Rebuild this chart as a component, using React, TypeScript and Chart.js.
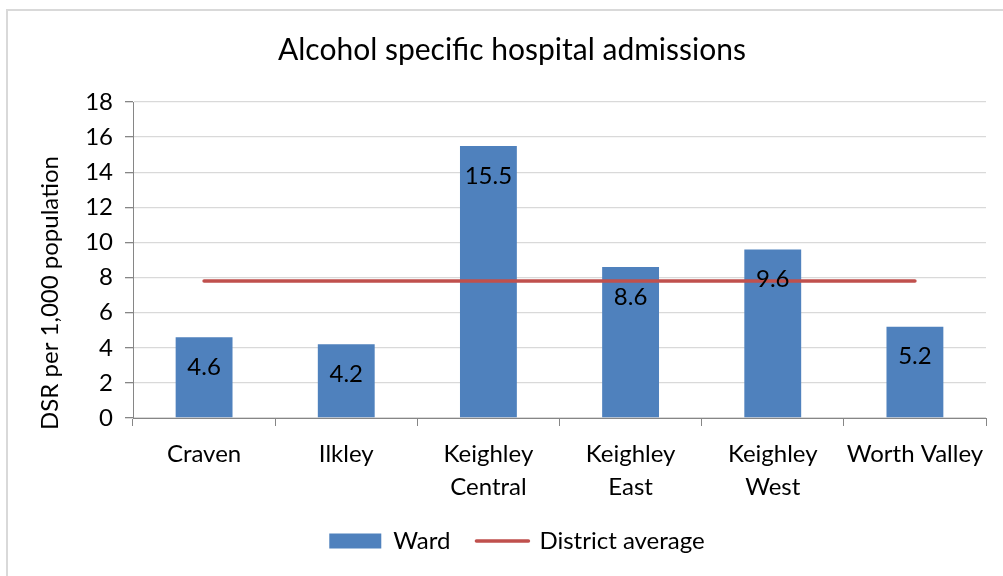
import React, { useEffect, useRef } from "react";
import { Chart, registerables } from "chart.js";

Chart.register(...registerables);

const categories: string[][] = [
  ["Craven"],
  ["Ilkley"],
  ["Keighley", "Central"],
  ["Keighley", "East"],
  ["Keighley", "West"],
  ["Worth Valley"],
];
const wardValues = [4.6, 4.2, 15.5, 8.6, 9.6, 5.2];
const districtAverage = [7.8, 7.8, 7.8, 7.8, 7.8, 7.8];
const yMin = 0;
const yMax = 18;
const yStep = 2;

const chartTitle = "Alcohol specific hospital admissions";
const yAxisTitle = "DSR per 1,000 population";
const seriesNames = ["Ward", "District average"];

const BAR_COLOR = "#4F81BD";
const LINE_COLOR = "#C0504D";
const FONT = "Lato";

export default function App() {
  const canvasRef = useRef<HTMLCanvasElement | null>(null);

  useEffect(() => {
    document.body.style.margin = "0";
    const canvas = canvasRef.current;
    if (!canvas) return;

    const framePlugin = {
      id: "frame",
      beforeDraw(chart: any) {
        const ctx = chart.ctx;
        ctx.save();
        ctx.fillStyle = "#ffffff";
        ctx.fillRect(0, 0, chart.width, chart.height);
        ctx.fillStyle = "#d9d9d9";
        ctx.fillRect(6, 9, chart.width - 6, 2);
        ctx.fillRect(6, 9, 2, chart.height - 9);
        ctx.restore();
      },
      afterLayout(chart: any) {
        const lg = chart.legend;
        if (lg) {
          lg.left += 5;
          lg.right += 5;
        }
      },
    };

    const dataLabelPlugin = {
      id: "dataLabels",
      afterDatasetsDraw(chart: any) {
        const ctx = chart.ctx;
        const meta = chart.getDatasetMeta(0);
        ctx.save();
        ctx.font = `24px ${FONT}`;
        ctx.fillStyle = "#000";
        ctx.textAlign = "center";
        ctx.textBaseline = "middle";
        meta.data.forEach((el: any, i: number) => {
          const v = chart.data.datasets[0].data[i];
          ctx.fillText(Number(v).toFixed(1), el.x, el.y + 30);
        });
        ctx.restore();
      },
    };

    const extrasPlugin = {
      id: "extras",
      afterDraw(chart: any) {
        const ctx = chart.ctx;
        ctx.save();
        ctx.font = `24px ${FONT}`;
        ctx.fillStyle = "#000";
        ctx.textAlign = "center";
        ctx.textBaseline = "middle";
        ctx.translate(50, 293);
        ctx.rotate(-Math.PI / 2);
        ctx.fillText(yAxisTitle, 0, 0);
        ctx.restore();
        const lg = chart.legend;
        if (lg && lg.legendHitBoxes && lg.legendItems) {
          const idx = lg.legendItems.findIndex((it: any) => it.datasetIndex === 1);
          const hb = lg.legendHitBoxes[idx];
          if (hb) {
            const bw = lg.options.labels.boxWidth;
            const yc = hb.top + hb.height / 2;
            ctx.save();
            ctx.strokeStyle = LINE_COLOR;
            ctx.lineWidth = 3.5;
            ctx.lineCap = "round";
            ctx.beginPath();
            ctx.moveTo(hb.left + 1, yc);
            ctx.lineTo(hb.left + bw + 1, yc);
            ctx.stroke();
            ctx.restore();
          }
        }
      },
    };

    const chart = new Chart(canvas, {
      data: {
        labels: categories,
        datasets: [
          {
            type: "bar",
            label: seriesNames[0],
            data: wardValues,
            backgroundColor: BAR_COLOR,
            borderWidth: 0,
            barPercentage: 0.4,
            categoryPercentage: 1.0,
            order: 1,
          } as any,
          {
            type: "line",
            label: seriesNames[1],
            data: districtAverage,
            borderColor: LINE_COLOR,
            backgroundColor: LINE_COLOR,
            borderWidth: 3.5,
            borderCapStyle: "round",
            pointRadius: 0,
            pointHoverRadius: 0,
            order: 0,
          } as any,
        ],
      },
      options: {
        responsive: false,
        animation: false,
        layout: { padding: { left: 38, right: 17, top: 0, bottom: 13 } },
        font: { family: FONT },
        plugins: {
          title: {
            display: true,
            text: chartTitle,
            color: "#000",
            font: { family: FONT, size: 30, weight: "normal", lineHeight: 1.2 },
            padding: { top: 32, bottom: 34 },
          },
          legend: {
            position: "bottom",
            labels: {
              boxWidth: 52,
              boxHeight: 15,
              padding: 25,
              color: "#000",
              font: { family: FONT, size: 24 },
              sort: (a: any, b: any) => a.datasetIndex - b.datasetIndex,
              generateLabels(chart: any) {
                const items = (Chart.defaults.plugins.legend.labels as any).generateLabels(chart);
                items.forEach((it: any) => {
                  if (it.datasetIndex === 1) {
                    it.fillStyle = "rgba(0,0,0,0)";
                    it.strokeStyle = "rgba(0,0,0,0)";
                    it.lineWidth = 0;
                  } else {
                    it.fillStyle = BAR_COLOR;
                    it.strokeStyle = BAR_COLOR;
                    it.lineWidth = 0;
                  }
                });
                return items;
              },
            },
          },
          tooltip: { enabled: false },
        },
        scales: {
          x: {
            offset: true,
            grid: {
              display: true,
              drawOnChartArea: false,
              drawTicks: true,
              tickLength: 8,
              tickColor: "#868686",
              offset: true,
            },
            border: { display: true, color: "#868686", width: 1 },
            ticks: {
              color: "#000",
              padding: 12,
              font: { family: FONT, size: 24, lineHeight: 1.375 },
              maxRotation: 0,
              autoSkip: false,
            },
            afterFit(scale: any) {
              scale.height = 86;
            },
          },
          y: {
            min: yMin,
            max: yMax,
            ticks: {
              stepSize: yStep,
              color: "#000",
              padding: 12,
              font: { family: FONT, size: 24 },
            },
            grid: {
              color: "#d9d9d9",
              lineWidth: 1.3,
              tickLength: 8,
              tickColor: "#868686",
            },
            border: { display: true, color: "#868686", width: 1 },
            afterFit(scale: any) {
              scale.width = 95;
            },
          },
        },
      },
      plugins: [framePlugin, dataLabelPlugin, extrasPlugin],
    } as any);

    return () => chart.destroy();
  }, []);

  return (
    <canvas
      ref={canvasRef}
      width={1003}
      height={576}
      style={{ display: "block", width: "1003px", height: "576px" }}
    />
  );
}
